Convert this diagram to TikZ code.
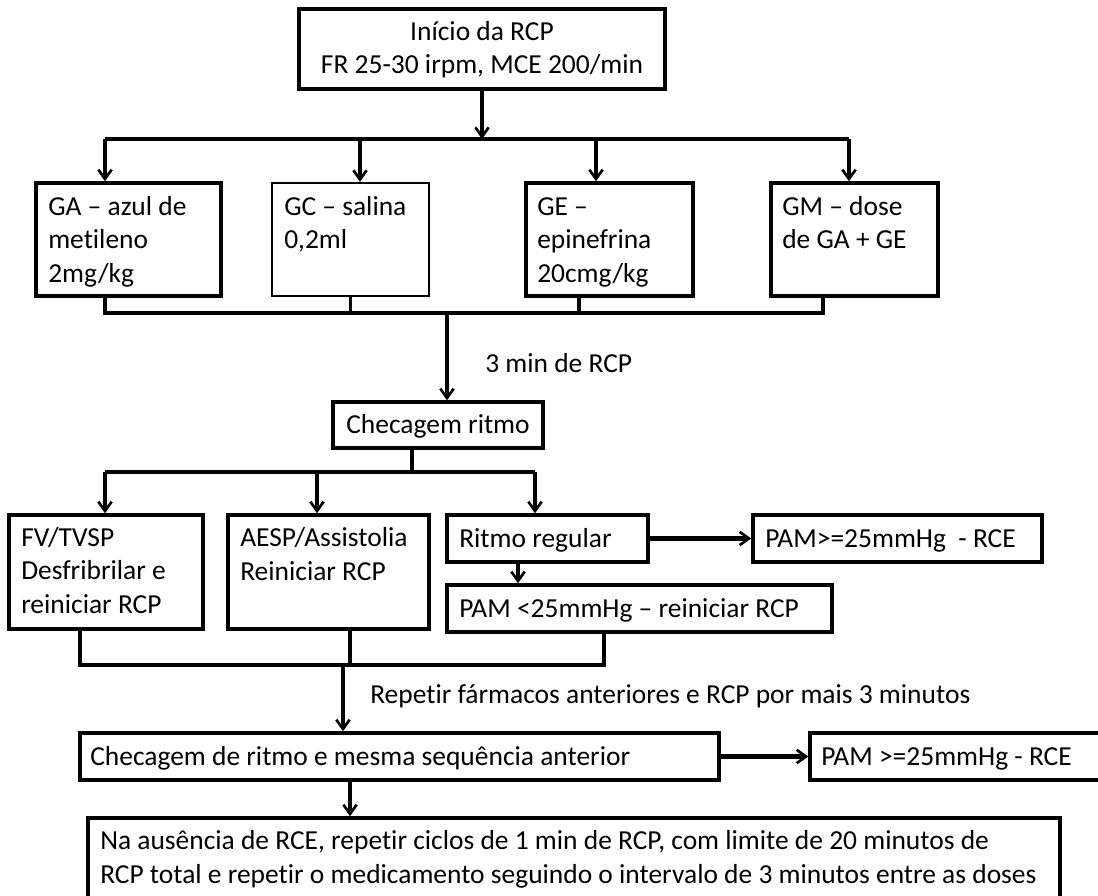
\documentclass[tikz,border=0pt]{standalone}
\usepackage{fontspec}
\setmainfont[Ligatures={NoCommon}]{Carlito}
\usetikzlibrary{arrows.meta,fit}
\tikzset{
 box/.style={draw, line width=2.6pt, inner sep=0pt},
 thinbox/.style={draw, line width=1.7pt, inner sep=0pt},
 txt/.style={inner sep=0pt, anchor=base west, align=left, font=\fontsize{20.6pt}{25.1pt}\selectfont},
 ctxt/.style={txt, anchor=base, align=center},
 ln/.style={line width=2.4pt},
 arr/.style={ln, -{Straight Barb[length=7pt,width=10pt,line width=2pt]}},
 tarr/.style={arr, line width=3.2pt},
}
\begin{document}
\begin{tikzpicture}[x=0.75pt,y=-0.75pt]
\useasboundingbox (0,0) rectangle (1098,895);
% boxes
\node[box, fit={(299,9) (665,89)}] (top) {};
\node[box, fit={(36,183) (221,296)}] (ga) {};
\node[thinbox, fit={(272,183) (429,296)}] (gc) {};
\node[box, fit={(526,183) (693,296)}] (ge) {};
\node[box, fit={(771,183) (938,296)}] (gm) {};
\node[box, fit={(333,402) (543,448)}] (chk) {};
\node[box, fit={(9,515) (203,629)}] (fv) {};
\node[box, fit={(228,515) (429,629)}] (aesp) {};
\node[box, fit={(447,515) (648,562)}] (reg) {};
\node[box, fit={(753,515) (1042,562)}] (rce1) {};
\node[box, fit={(447,585) (832,632)}] (pam) {};
\node[box, fit={(80,733) (719,780)}] (chk2) {};
\node[box, fit={(810,733) (1104,780)}] (rce2) {};
\node[box, fit={(88,818) (1060,904)}] (fin) {};
% texts (anchor = baseline of the last line)
\node[ctxt] (ttop) at (482,73.5) {Início da RCP\\FR 25-30 irpm, MCE 200/min};
\node[txt] (tga) at (48,282) {GA – azul de\\metileno\\2mg/kg};
\node[txt] (tgc) at (284,248.5) {GC – salina\\0,2ml};
\node[txt] (tge) at (537,282) {GE –\\epinefrina\\20cmg/kg};
\node[txt] (tgm) at (782,248.5) {GM – dose\\de GA + GE};
\node[txt] (tmin) at (485,372) {3 min de RCP};
\node[ctxt] (tchk) at (438,433) {Checagem ritmo};
\node[txt] (tfv) at (21,613) {FV/TVSP\\Desfribrilar e\\reiniciar RCP};
\node[txt] (taesp) at (240,580) {AESP/Assistolia\\Reiniciar RCP};
\node[txt] (treg) at (459,547) {Ritmo regular};
\node[txt] (trce1) at (765,547) {PAM>=25mmHg\ \ - RCE};
\node[txt] (tpam) at (459,617) {PAM <25mmHg – reiniciar RCP};
\node[txt] (trep) at (370,703) {Repetir fármacos anteriores e RCP por mais 3 minutos};
\node[txt] (tchk2) at (90,765) {Checagem de ritmo e mesma sequência anterior};
\node[txt] (trce2) at (821,765) {PAM >=25mmHg - RCE};
\node[txt] (tfin) at (100,883) {Na ausência de RCE, repetir ciclos de 1 min de RCP, com limite de 20 minutos de\\RCP total e repetir o medicamento seguindo o intervalo de 3 minutos entre as doses};
% connectors, level 1
\coordinate (j1a) at (105,139);
\coordinate (j1b) at (360,139);
\coordinate (j1c) at (596,139);
\coordinate (j1d) at (849,139);
\draw[arr] (top.south) -- (top.south |- j1a);
\draw[ln] (j1a) -- (j1d);
\draw[arr] (j1a) -- (j1a |- ga.north);
\draw[arr] (j1b) -- (j1b |- gc.north);
\draw[arr] (j1c) -- (j1c |- ge.north);
\draw[arr] (j1d) -- (j1d |- gm.north);
% level 2
\coordinate (k1) at (105,313);
\coordinate (k3) at (579,313);
\coordinate (k4) at (823,313);
\coordinate (k0) at (447,313);
\draw[ln] (k1 |- ga.south) -- (k1) -- (k4) -- (k4 |- gm.south);
\draw[ln] (gc.south) -- (gc.south |- k1);
\draw[ln] (k3 |- ge.south) -- (k3);
\draw[arr] (k0) -- (k0 |- chk.north);
% level 3
\coordinate (m0) at (412,472);
\coordinate (m1) at (105,472);
\coordinate (m2) at (317,472);
\coordinate (m3) at (535,472);
\draw[ln] (m0 |- chk.south) -- (m0);
\draw[ln] (m1) -- (m3);
\draw[arr] (m1) -- (m1 |- fv.north);
\draw[arr] (m2) -- (m2 |- aesp.north);
\draw[arr] (m3) -- (m3 |- reg.north);
\draw[tarr] (reg.east) -- (rce1.west);
\coordinate (rx) at (518,0);
\draw[arr] (rx |- reg.south) -- (rx |- pam.north);
% level 4
\coordinate (n1) at (80,665);
\coordinate (n2) at (350,665);
\coordinate (n3) at (604,665);
\coordinate (n0) at (343,665);
\draw[ln] (n1 |- fv.south) -- (n1) -- (n3) -- (n3 |- pam.south);
\draw[ln] (n2 |- aesp.south) -- (n2);
\draw[arr] (n0) -- (n0 |- chk2.north);
\draw[tarr] (chk2.east) -- (rce2.west);
\coordinate (p0) at (350,0);
\draw[arr] (p0 |- chk2.south) -- (p0 |- fin.north);
\end{tikzpicture}
\end{document}
